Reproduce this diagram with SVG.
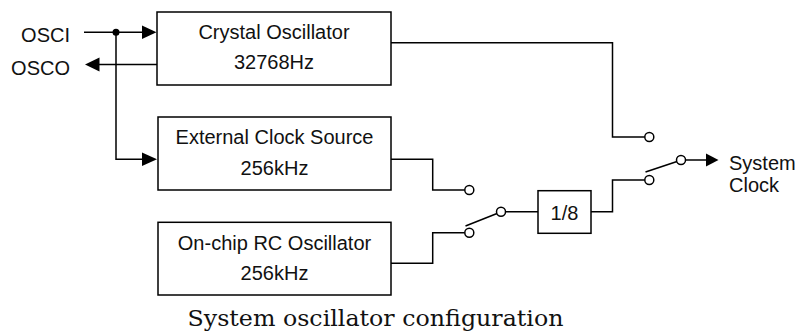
<svg xmlns="http://www.w3.org/2000/svg" width="798" height="334" viewBox="0 0 798 334">
<style>
.box{fill:#fff;stroke:#000;stroke-width:1.5}
.w{fill:none;stroke:#000;stroke-width:1.5}
.c{fill:#fff;stroke:#000;stroke-width:1.5}
.ah{fill:#000;stroke:none}
.t{font-family:"Liberation Sans",Arial,sans-serif;font-size:20px;fill:#111}
.m{text-anchor:middle}
.e{text-anchor:end}
.cap{font-family:"DejaVu Serif","Liberation Serif",serif;font-size:22px;fill:#111}
</style>
<rect width="798" height="334" fill="#fff"/>
<g id="connectors">
  <path class="w" d="M84 32.3H145"/>
  <polygon class="ah" points="142,25.5 156.5,32.3 142,39"/>
  <circle cx="116" cy="32.3" r="3.5" fill="#000"/>
  <path class="w" d="M157 64.5H96"/>
  <polygon class="ah" points="85,64.5 99.5,57.5 99.5,71.5"/>
  <path class="w" d="M116 32.3V159.3H145"/>
  <polygon class="ah" points="142,152.5 157,159.3 142,166"/>
  <path class="w" d="M391 42.7H612.5V137H644.8"/>
  <path class="w" d="M391 159.3H432.7V190H464.8"/>
  <path class="w" d="M391 263.3H432.7V232.7H464.8"/>
  <path class="w" d="M465.5 226L497 213.5"/>
  <path class="w" d="M505.5 211.7H538"/>
  <path class="w" d="M591 211.7H612.5V180H644.8"/>
  <path class="w" d="M645.5 172L677 161.5"/>
  <path class="w" d="M685.5 160H708"/>
  <polygon class="ah" points="706,153.5 718.5,160 706,166.5"/>
  <circle class="c" cx="469.3" cy="190" r="4.5"/>
  <circle class="c" cx="469.3" cy="232.7" r="4.5"/>
  <circle class="c" cx="501" cy="211.7" r="4.5"/>
  <circle class="c" cx="649.3" cy="137" r="4.5"/>
  <circle class="c" cx="649.3" cy="180" r="4.5"/>
  <circle class="c" cx="681" cy="160" r="4.5"/>
</g>
<g id="osci"><text class="t e" x="70" y="42">OSCI</text></g>
<g id="osco"><text class="t e" x="70" y="75">OSCO</text></g>
<g id="crystal">
  <rect class="box" x="157" y="12" width="234" height="73"/>
  <text class="t m" x="274" y="38.5">Crystal Oscillator</text>
  <text class="t m" x="274" y="68.5">32768Hz</text>
</g>
<g id="external">
  <rect class="box" x="158" y="117" width="233" height="73"/>
  <text class="t m" x="274.5" y="144">External Clock Source</text>
  <text class="t m" x="274.5" y="174.5">256kHz</text>
</g>
<g id="rc">
  <rect class="box" x="158" y="222.3" width="233" height="72.7"/>
  <text class="t m" x="274.5" y="250">On-chip RC Oscillator</text>
  <text class="t m" x="274.5" y="280">256kHz</text>
</g>
<g id="div8">
  <rect class="box" x="538" y="190.7" width="53" height="42.6"/>
  <text class="t m" x="564.5" y="220">1/8</text>
</g>
<g id="sysclk">
  <text class="t" x="729" y="170">System</text>
  <text class="t" x="729" y="191.5">Clock</text>
</g>
<g id="caption">
  <text class="cap" x="187.5" y="325.5" textLength="376" lengthAdjust="spacingAndGlyphs">System oscillator configuration</text>
</g>
</svg>
